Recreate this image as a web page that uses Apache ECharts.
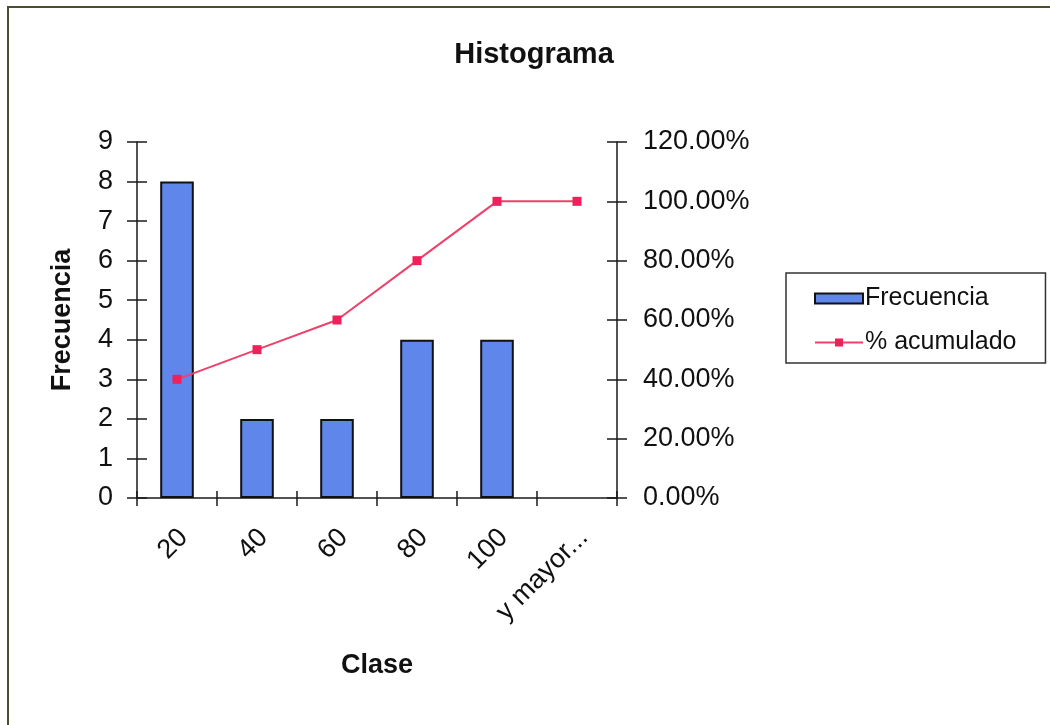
<!DOCTYPE html>
<html>
<head>
<meta charset="utf-8">
<script src="https://cdn.jsdelivr.net/npm/echarts@6/dist/echarts.min.js"></script>
<style>
html,body{margin:0;padding:0;background:#fff;}
#chart{width:1050px;height:725px;}
</style>
</head>
<body>
<div id="chart"></div>
<script>
const categories = ['20', '40', '60', '80', '100', 'y mayor...'];
const frecuencia = [8, 2, 2, 4, 4, 0];
const acumulado = [40, 50, 60, 80, 100, 100];
const leftTicks = {min: 0, max: 9, interval: 1};
const rightTicks = {min: 0, max: 120, interval: 20};

const FONT = '"Liberation Sans", Arial, sans-serif';
const axisColor = '#1a1a1a';
const LABEL_SIZE = 27;

const chart = echarts.init(document.getElementById('chart'));
const leftBase = {
  type: 'value', min: leftTicks.min, max: leftTicks.max, interval: leftTicks.interval,
  splitLine: {show: false}
};
const rightBase = {
  type: 'value', min: rightTicks.min, max: rightTicks.max, interval: rightTicks.interval,
  splitLine: {show: false}
};
chart.setOption({
  animation: false,
  backgroundColor: '#ffffff',
  textStyle: {fontFamily: FONT, color: '#111'},
  title: {
    text: 'Histograma', left: 529, top: 35, textAlign: 'center',
    textStyle: {fontFamily: FONT, fontSize: 29, fontWeight: 'bold', color: '#111'}
  },
  graphic: [{
    type: 'polyline', silent: true,
    shape: {points: [[8, 725], [8, 7], [1050, 7]]},
    style: {stroke: '#4a4f30', lineWidth: 2, fill: null}
  }],
  legend: {
    orient: 'vertical', left: 786, top: 273,
    padding: [13, 29, 8, 28],
    itemGap: 19, itemWidth: 48, itemHeight: 10,
    borderColor: '#333', borderWidth: 1.5,
    textStyle: {fontFamily: FONT, fontSize: 25, color: '#111', padding: [0, 0, 0, -3]},
    data: [
      {name: 'Frecuencia', icon: 'rect'},
      {name: '% acumulado'}
    ]
  },
  grid: {left: 137, right: 433, top: 142, bottom: 227, containLabel: false},
  xAxis: [{
    type: 'category', data: categories, position: 'bottom',
    axisLine: {lineStyle: {color: axisColor, width: 1.5}},
    axisTick: {show: true, length: 8, lineStyle: {color: axisColor, width: 1.5}},
    axisLabel: {rotate: 45, margin: 23, verticalAlign: 'top', padding: [0, 4, 0, 0], fontSize: LABEL_SIZE, color: '#111', fontFamily: FONT, interval: 0},
    name: 'Clase', nameLocation: 'middle', nameGap: 154,
    nameTextStyle: {fontFamily: FONT, fontSize: 27, fontWeight: 'bold', color: '#111'}
  }, {
    type: 'category', data: categories, position: 'bottom',
    axisLine: {show: false},
    axisTick: {show: true, inside: true, length: 7, lineStyle: {color: axisColor, width: 1.5}},
    axisLabel: {show: false}
  }],
  yAxis: [Object.assign({}, leftBase, {
    position: 'left',
    axisLine: {show: true, lineStyle: {color: axisColor, width: 1.5}},
    axisTick: {show: true, length: 10, lineStyle: {color: axisColor, width: 1.5}},
    axisLabel: {margin: 24, fontSize: LABEL_SIZE, color: '#111', fontFamily: FONT},
    name: 'Frecuencia', nameLocation: 'middle', nameGap: 61, nameRotate: 90,
    nameTextStyle: {fontFamily: FONT, fontSize: 27, fontWeight: 'bold', color: '#111'}
  }), Object.assign({}, rightBase, {
    position: 'right',
    axisLine: {show: true, lineStyle: {color: axisColor, width: 1.5}},
    axisTick: {show: true, length: 10, lineStyle: {color: axisColor, width: 1.5}},
    axisLabel: {margin: 26, fontSize: LABEL_SIZE, color: '#111', fontFamily: FONT,
      formatter: v => v.toFixed(2) + '%'}
  }), Object.assign({}, leftBase, {
    position: 'left', offset: 0,
    axisLine: {show: false},
    axisTick: {show: true, inside: true, length: 10, lineStyle: {color: axisColor, width: 1.5}},
    axisLabel: {show: false}
  }), Object.assign({}, rightBase, {
    position: 'right', offset: 0,
    axisLine: {show: false},
    axisTick: {show: true, inside: true, length: 10, lineStyle: {color: axisColor, width: 1.5}},
    axisLabel: {show: false}
  })],
  series: [{
    name: 'Frecuencia', type: 'bar', xAxisIndex: 0, yAxisIndex: 0,
    data: frecuencia.map(v => v === 0 ? null : v), barWidth: '42%',
    itemStyle: {color: '#5f86ea', borderColor: '#111', borderWidth: 2}
  }, {
    name: '% acumulado', type: 'line', xAxisIndex: 0, yAxisIndex: 1,
    data: acumulado, symbol: 'rect', symbolSize: 9,
    lineStyle: {color: '#f0406a', width: 2},
    itemStyle: {color: '#f0205a'}
  }]
});
</script>
</body>
</html>
